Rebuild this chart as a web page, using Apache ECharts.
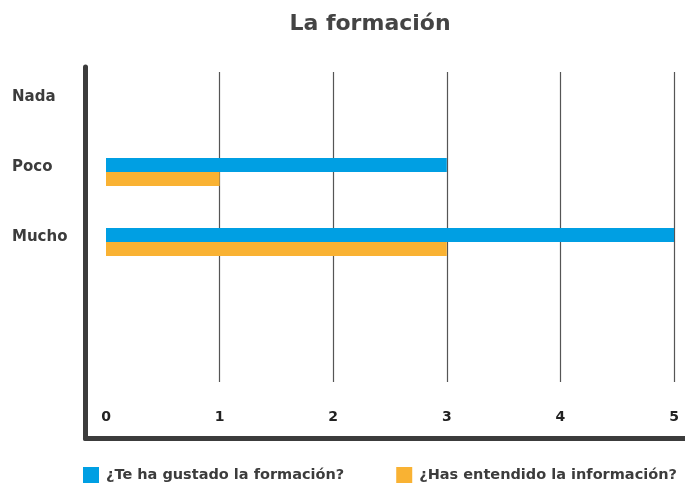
<!DOCTYPE html>
<html>
<head>
<meta charset="utf-8">
<script src="https://cdn.jsdelivr.net/npm/echarts@6/dist/echarts.min.js"></script>
<style>
  html, body { margin: 0; padding: 0; background: #fff; }
  #chart { width: 685px; height: 487px; }
</style>
</head>
<body>
<div id="chart"></div>
<script>
// datos
const categorias = ['Nada', 'Poco', 'Mucho'];
const gustado = [0, 3, 5];
const entendido = [0, 1, 3];
const nombres = ['¿Te ha gustado la formación?', '¿Has entendido la información?'];

const FONT = '"DejaVu Sans", sans-serif';
const dark = '#3c3c3c';

const chart = echarts.init(document.getElementById('chart'));

// eje sin nada visible, solo para compartir la escala
const ejeOculto = (grid, extra) => Object.assign({
  gridIndex: grid,
  type: 'value',
  axisLine: { show: false },
  axisTick: { show: false },
  axisLabel: { show: false },
  splitLine: { show: false }
}, extra);

const option = {
  backgroundColor: '#fff',
  animation: false,
  title: {
    text: 'La formación',
    left: 365,
    top: 8,
    textAlign: 'center',
    textStyle: { fontFamily: FONT, fontWeight: 'bold', fontSize: 22, color: '#444' }
  },
  legend: {
    left: 78,
    top: 462,
    padding: [5, 0, 5, 5],
    icon: 'rect',
    itemWidth: 16,
    itemHeight: 16,
    itemGap: 52,
    textStyle: { fontFamily: FONT, fontWeight: 'bold', fontSize: 14.5, color: dark, padding: [0, 0, 0, 2] },
    data: nombres
  },
  grid: [
    // área de barras (5 bandas de 70px)
    { left: 106, right: 11, top: 67, bottom: 70 },
    // marco (ejes gruesos)
    { left: 85.5, right: 0, top: 67, bottom: 48.5 },
    // líneas de división
    { left: 106, right: 11, top: 72, bottom: 105 }
  ],
  xAxis: [
    {
      gridIndex: 0,
      type: 'value',
      min: 0,
      max: 5,
      interval: 1,
      position: 'bottom',
      offset: 21.5,
      axisLine: { show: false },
      axisTick: { show: false },
      axisLabel: {
        inside: true,
        margin: 14,
        fontFamily: FONT,
        fontWeight: 'bold',
        fontSize: 14,
        color: '#222'
      },
      splitLine: { show: false }
    },
    ejeOculto(1, {
      axisLine: { show: true, lineStyle: { color: dark, width: 5 } }
    }),
    ejeOculto(2, {
      min: 0,
      max: 5,
      interval: 1,
      splitLine: {
        show: true,
        showMinLine: false,
        lineStyle: { color: '#555', width: 1.2 }
      }
    })
  ],
  yAxis: [
    {
      gridIndex: 0,
      type: 'category',
      data: categorias,
      inverse: true,
      max: 4,
      axisLine: { show: false },
      axisTick: { show: false },
      axisLabel: {
        margin: 94,
        align: 'left',
        verticalAlign: 'bottom',
        lineHeight: 10,
        fontFamily: FONT,
        fontWeight: 'bold',
        fontSize: 15,
        color: dark,
        formatter: v => (categorias.includes(v) ? v : '')
      },
      splitLine: { show: false }
    },
    ejeOculto(1, {
      axisLine: { show: true, lineStyle: { color: dark, width: 5 } }
    }),
    ejeOculto(2)
  ],
  series: [
    {
      name: nombres[0],
      type: 'bar',
      xAxisIndex: 0,
      yAxisIndex: 0,
      data: gustado,
      barWidth: 14,
      barGap: '0%',
      itemStyle: { color: '#009fe3' }
    },
    {
      name: nombres[1],
      type: 'bar',
      xAxisIndex: 0,
      yAxisIndex: 0,
      data: entendido,
      barWidth: 14,
      barGap: '0%',
      itemStyle: { color: '#f9b233' }
    }
  ]
};

chart.setOption(option);
</script>
</body>
</html>
